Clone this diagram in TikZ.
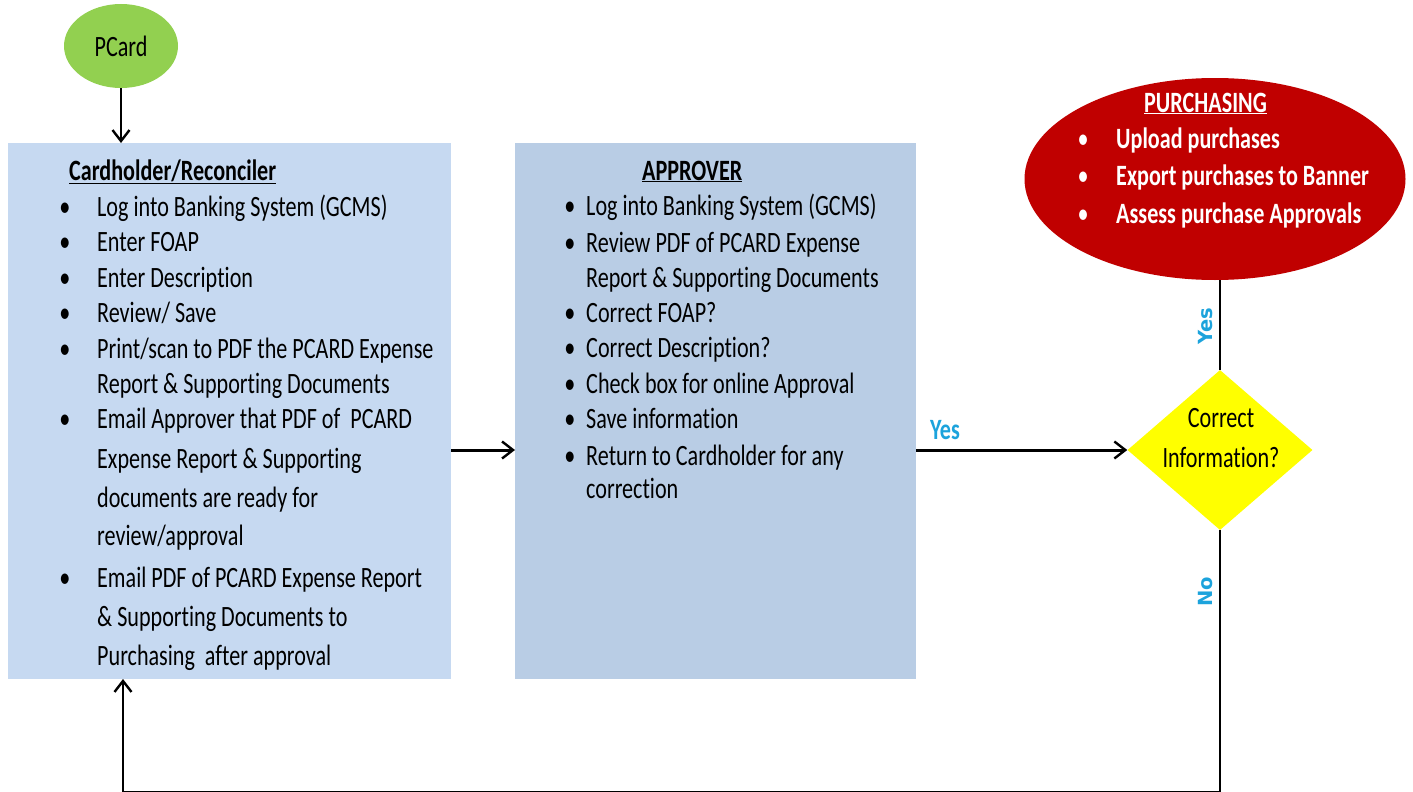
\documentclass[tikz,border=0pt]{standalone}
\usepackage{fontspec}
\setmainfont{Carlito}[FakeStretch=0.75,Ligatures=NoCommon]
\newfontfamily\lblfont{DejaVu Sans}
\usetikzlibrary{arrows.meta,shapes.geometric}
\definecolor{pgreen}{HTML}{92D050}
\definecolor{boxone}{HTML}{C6D9F1}
\definecolor{boxtwo}{HTML}{B9CDE5}
\definecolor{pred}{HTML}{C00000}
\definecolor{dyellow}{HTML}{FFFF00}
\definecolor{lblue}{HTML}{1CA3DC}
\newcommand\bodysize{\fontsize{29.5}{35}\selectfont}
\begin{document}
\begin{tikzpicture}[x=1pt,y=-1pt,
  txt/.style={anchor=base west,inner sep=0pt,font=\bodysize},
  bul/.style={anchor=base,inner sep=0pt,font=\bodysize},
  lane/.style={anchor=north west,inner sep=0pt,outer sep=0pt,draw=none},
  thinline/.style={line width=1.8pt,draw=black},
  thickline/.style={line width=3pt,draw=black},
  tipa/.style={-{Straight Barb[length=11pt,width=17pt,line width=2.4pt]}},
  yeslbl/.style={inner sep=0pt,text=lblue,font=\bodysize\bfseries},
  rotlbl/.style={inner sep=0pt,text=lblue,rotate=90,font=\lblfont\fontsize{19.5}{22}\selectfont\bfseries}]
\useasboundingbox (0,0) rectangle (1413,792);

% shapes
\node[ellipse,fill=pgreen,minimum width=114pt,minimum height=84pt,inner sep=0pt,font=\bodysize] (pcard) at (121,46) {PCard};
\node[lane,fill=boxone,minimum width=443pt,minimum height=536pt] (ch) at (8,143) {};
\node[lane,fill=boxtwo,minimum width=401pt,minimum height=536pt] (ap) at (515,143) {};
\node[ellipse,fill=pred,minimum width=381pt,minimum height=202pt,inner sep=0pt] (pur) at (1215,179) {};
\node[diamond,fill=dyellow,minimum width=185pt,minimum height=160pt,inner sep=0pt] (dia) at (1220,450) {};

% Cardholder text
\node[txt,font=\bodysize\bfseries] (chh) at (69,180) {\underline{Cardholder/Reconciler}};
\node[bul] (cb1) at (65,216) {•};
\node[txt] (c1) at (97,216) {Log into Banking System (GCMS)};
\node[bul] (cb2) at (65,251) {•};
\node[txt] (c2) at (97,251) {Enter FOAP};
\node[bul] (cb3) at (65,287) {•};
\node[txt] (c3) at (97,287) {Enter Description};
\node[bul] (cb4) at (65,322) {•};
\node[txt] (c4) at (97,322) {Review/ Save};
\node[bul] (cb5) at (65,358) {•};
\node[txt] (c5) at (97,358) {Print/scan to PDF the PCARD Expense};
\node[txt] (c6) at (97,393) {Report \& Supporting Documents};
\node[bul] (cb7) at (65,428) {•};
\node[txt] (c7) at (97,428) {Email Approver that PDF of \ PCARD};
\node[txt] (c8) at (97,468) {Expense Report \& Supporting};
\node[txt] (c9) at (97,507) {documents are ready for};
\node[txt] (c10) at (97,545) {review/approval};
\node[bul] (cb11) at (65,587) {•};
\node[txt] (c11) at (97,587) {Email PDF of PCARD Expense Report};
\node[txt] (c12) at (97,626) {\& Supporting Documents to};
\node[txt] (c13) at (97,665) {Purchasing \ after approval};

% Approver text
\node[txt,font=\bodysize\bfseries] (aph) at (642,180) {\underline{APPROVER}};
\node[bul] (ab1) at (570,215) {•};
\node[txt] (a1) at (586,215) {Log into Banking System (GCMS)};
\node[bul] (ab2) at (570,252) {•};
\node[txt] (a2) at (586,252) {Review PDF of PCARD Expense};
\node[txt] (a3) at (586,287) {Report \& Supporting Documents};
\node[bul] (ab4) at (570,322) {•};
\node[txt] (a4) at (586,322) {Correct FOAP?};
\node[bul] (ab5) at (570,357) {•};
\node[txt] (a5) at (586,357) {Correct Description?};
\node[bul] (ab6) at (570,393) {•};
\node[txt] (a6) at (586,393) {Check box for online Approval};
\node[bul] (ab7) at (570,428) {•};
\node[txt] (a7) at (586,428) {Save information};
\node[bul] (ab8) at (570,465) {•};
\node[txt] (a8) at (586,465) {Return to Cardholder for any};
\node[txt] (a9) at (586,498) {correction};

% Purchasing text
\node[txt,text=white,font=\bodysize\bfseries] (puh) at (1144,112) {\underline{PURCHASING}};
\node[bul,text=white] (pb1) at (1083,148) {•};
\node[txt,text=white,font=\bodysize\bfseries] (p1) at (1116,148) {Upload purchases};
\node[bul,text=white] (pb2) at (1083,185) {•};
\node[txt,text=white,font=\bodysize\bfseries] (p2) at (1116,185) {Export purchases to Banner};
\node[bul,text=white] (pb3) at (1083,223) {•};
\node[txt,text=white,font=\bodysize\bfseries] (p3) at (1116,223) {Assess purchase Approvals};

% Diamond text
\node[bul] (d1) at (1221,427) {Correct};
\node[bul] (d2) at (1221,467) {Information?};

% connectors
\coordinate (br) at (1221,792);
\coordinate (bl) at (123,792);
\draw[thinline,tipa] (pcard.south) -- (pcard.south |- ch.north);
\draw[thickline,tipa] (ch.east |- dia.west) -- (ap.west |- dia.west);
\draw[thickline,tipa] (ap.east |- dia.west) -- (dia.west);
\draw[thinline] (dia.north) -- (dia.north |- pur.south);
\draw[thinline,tipa] (dia.south) -- (dia.south |- br) -- (bl) -- (bl |- ch.south);

% labels
\node[yeslbl,anchor=base west] (ylab) at (930,439) {Yes};
\node[rotlbl] (yrot) at (1206,326) {Yes};
\node[rotlbl] (nrot) at (1206,592) {No};
\end{tikzpicture}
\end{document}
